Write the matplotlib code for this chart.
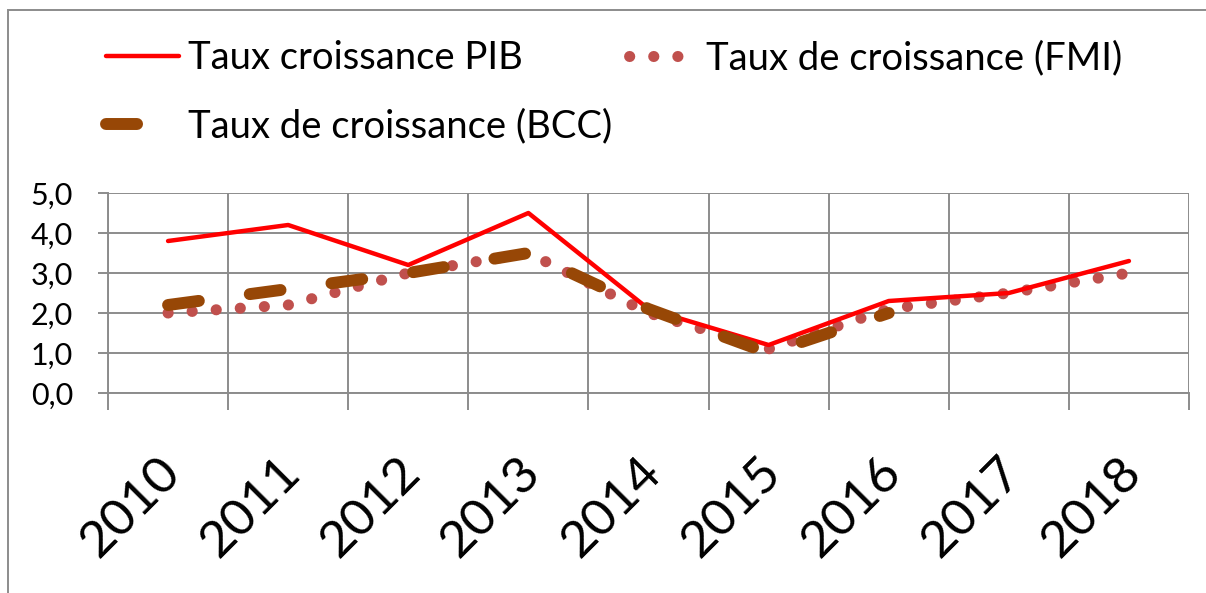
import numpy as np
import matplotlib
matplotlib.use('Agg')
from matplotlib import pyplot as plt
from matplotlib import transforms
from matplotlib.lines import Line2D
from matplotlib.patches import Rectangle

plt.rcParams['font.family'] = ['Lato', 'DejaVu Sans']

# données
annees = ['2010', '2011', '2012', '2013', '2014', '2015', '2016', '2017', '2018']
pib = [3.8, 4.2, 3.2, 4.5, 2.1, 1.2, 2.3, 2.5, 3.3]
fmi = [2.0, 2.2, 3.0, 3.5, 2.0, 1.1, 2.1, 2.5, 3.0]
bcc = [2.2, 2.6, 3.0, 3.5, 2.1, 1.0, 2.0, np.nan, np.nan]
y_ticks = [0, 1, 2, 3, 4, 5]

W, H = 1206, 593
fig = plt.figure(figsize=(W / 100, H / 100), dpi=100)
ax = fig.add_axes([108 / W, 1 - 393 / H, (1189 - 108) / W, 200 / H])

x = np.arange(len(annees))
gris = '#8c8c8c'
c_pib, c_fmi, c_bcc = '#ff0000', '#c0504d', '#974706'

ax.plot(x, pib, color=c_pib, lw=3.2, solid_capstyle='round',
        solid_joinstyle='round', zorder=4)
ax.plot(x, fmi, color=c_fmi, lw=8, linestyle=(0, (0.01, 2.16)),
        dash_capstyle='round', zorder=3)
ax.plot(x, bcc, color=c_bcc, lw=8.6, linestyle=(0, (2.6, 4.3)),
        dash_capstyle='round', zorder=5)

ax.set_xlim(-0.5, len(annees) - 0.5)
ax.set_ylim(0, 5)

# ticks et grille
ax.set_yticks(y_ticks)
ax.yaxis.set_major_formatter(plt.FuncFormatter(lambda v, p: ('%.1f' % v).replace('.', ',')))
ax.set_xticks(x)
ax.set_xticklabels(annees)
ax.set_xticks(np.arange(-0.5, len(annees)), minor=True)

ax.tick_params(axis='y', which='major', length=7.2, width=1.4, color=gris,
               labelsize=22, pad=18)
ax.tick_params(axis='x', which='major', length=0, labelsize=37, pad=52)
ax.tick_params(axis='x', which='minor', length=12.5, width=1.4, color=gris)
decal = transforms.ScaledTranslation(5 / 100, 0, fig.dpi_scale_trans)
for lab in ax.get_xticklabels():
    lab.set_rotation(45)
    lab.set_rotation_mode('anchor')
    lab.set_ha('right')
    lab.set_va('center')
    lab.set_transform(lab.get_transform() + decal)

ax.grid(axis='y', which='major', color=gris, lw=1.4)
ax.grid(axis='x', which='minor', color=gris, lw=1.4)
ax.set_axisbelow(True)
for s in ['top', 'right']:
    ax.spines[s].set_visible(False)
for s in ['left', 'bottom']:
    ax.spines[s].set_color(gris)
    ax.spines[s].set_linewidth(1.4)

# légende (ordre pour remplir ligne par ligne)
h_pib = Line2D([], [], color=c_pib, lw=3.2, solid_capstyle='round')
h_bcc = Line2D([], [], color=c_bcc, lw=8.6, linestyle=(0, (2.6, 4.3)),
               dash_capstyle='round')
h_fmi = Line2D([], [], color=c_fmi, lw=8, linestyle=(1.71, (0.01, 2.16)),
               dash_capstyle='round')
fig.legend([h_pib, h_bcc, h_fmi],
           ['Taux croissance PIB', 'Taux de croissance (BCC)', 'Taux de croissance (FMI)'],
           ncol=2, frameon=False, loc='upper left',
           bbox_to_anchor=(106 / W, 1 - 40 / H),
           fontsize=27.5, handlelength=1.9, handletextpad=0.25,
           columnspacing=0.3, labelspacing=0.85, borderaxespad=0,
           borderpad=0)

# cadre du graphique
fig.patches.append(Rectangle((8 / W, -0.1), 1.2, 1 - 10 / H + 0.1, fill=False,
                             edgecolor=gris, lw=1.4, transform=fig.transFigure))

fig.savefig('out.png', dpi=100)
